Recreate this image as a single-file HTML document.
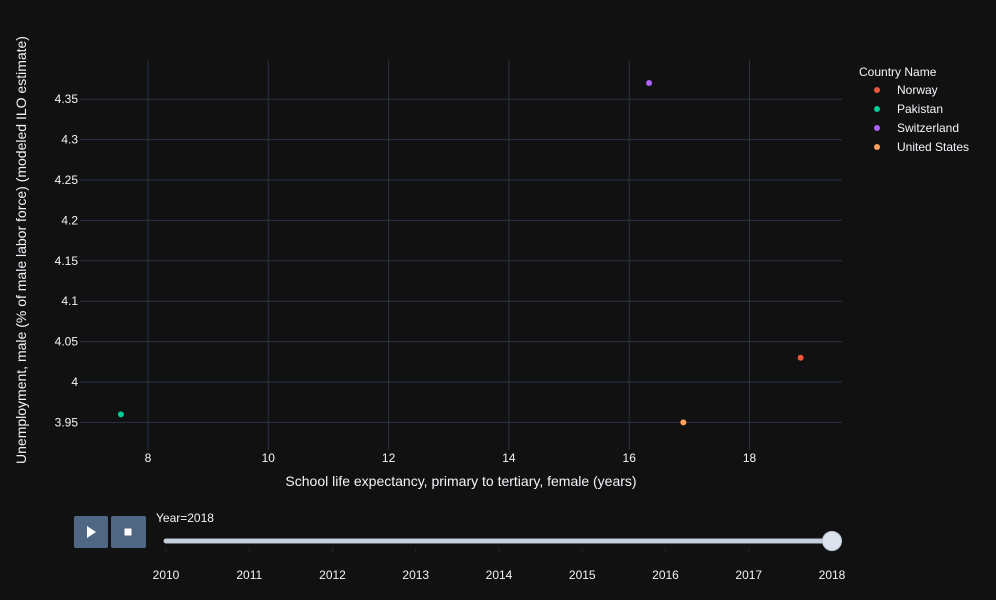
<!DOCTYPE html>
<html><head><meta charset="utf-8"><style>
body{margin:0;background:#111111;}
svg{display:block;font-family:"Liberation Sans",sans-serif;}
</style></head><body>
<svg id="c" width="996" height="600">
<rect width="996" height="600" fill="#111111"/>
<g id="grid"></g><g id="pts"></g><g id="ticks"></g>
<text x="461" y="486" fill="#f2f5fa" font-size="14" text-anchor="middle">School life expectancy, primary to tertiary, female (years)</text>
<text transform="translate(26,250) rotate(-90)" fill="#f2f5fa" font-size="14" text-anchor="middle">Unemployment, male (% of male labor force) (modeled ILO estimate)</text>
<text x="859" y="76" fill="#f2f5fa" font-size="12">Country Name</text>
<g id="legend"></g>
<g><rect x="74" y="516" width="34" height="32" rx="2" fill="#506784"/><path d="M87,526 L96,532 L87,538Z" fill="#fff"/></g>
<g><rect x="111" y="516" width="35" height="32" rx="2" fill="#506784"/><rect x="124.5" y="528.5" width="7" height="7" fill="#fff"/></g>
<text x="156" y="522" fill="#f2f5fa" font-size="12">Year=2018</text>
<rect x="164" y="539" width="670" height="4" rx="2" fill="#c8d0dc" stroke="#bec8d9"/>
<g id="slider"></g>
<circle cx="832" cy="541" r="9.5" fill="#dce2ec" stroke="#bec8d9"/>
</svg>
<script>
const countries=["Norway","Pakistan","Switzerland","United States"];
const colors=["#EF553B","#00cc96","#ab63fa","#FFA15A"];
const xVals=[18.85,7.55,16.33,16.9];
const yVals=[4.03,3.96,4.37,3.95];
const xTicks=[8,10,12,14,16,18];
const yTicks=[3.95,4,4.05,4.1,4.15,4.2,4.25,4.3,4.35];
const years=[2010,2011,2012,2013,2014,2015,2016,2017,2018];
const NS="http://www.w3.org/2000/svg";
const L=80,R=842,T=60,B=450;
const xs=v=>148+(v-8)*60.15;
const ys=v=>382-(v-4)*808;
function mk(p,tag,a){const e=document.createElementNS(NS,tag);for(const k in a)e.setAttribute(k,a[k]);document.getElementById(p).appendChild(e);return e;}
xTicks.forEach(t=>{
 const l=mk('grid','line',{x1:xs(t),x2:xs(t),y1:T,y2:B,stroke:'#283442'});
 
 
 const tx=mk('ticks','text',{x:xs(t),y:B+12,fill:'#f2f5fa','font-size':12,'text-anchor':'middle'});tx.textContent=t;
 
 
});
yTicks.forEach(t=>{
 const l=mk('grid','line',{x1:L,x2:R,y1:ys(t),y2:ys(t),stroke:'#283442'});
 
 
 const tx=mk('ticks','text',{x:L-2,y:ys(t)+4,fill:'#f2f5fa','font-size':12,'text-anchor':'end'});tx.textContent=String(t);
 
 
});
countries.forEach((c,i)=>{
 const p=mk('pts','circle',{cx:xs(xVals[i]),cy:ys(yVals[i]),r:3,fill:colors[i]});
 
 
 const m=mk('legend','circle',{cx:877,cy:90+i*19,r:3,fill:colors[i]});
 
 
 const t=mk('legend','text',{x:897,y:94+i*19,fill:'#f2f5fa','font-size':12});t.textContent=c;
 
 
});
years.forEach((y,i)=>{
 const x=166+i*83.25;
 const tk=mk('slider','line',{x1:x,x2:x,y1:547,y2:553,stroke:'#222'});
 
 
 const t=mk('slider','text',{x:x,y:579,fill:'#f2f5fa','font-size':12,'text-anchor':'middle'});t.textContent=y;
 
 
});
</script>
</body></html>
